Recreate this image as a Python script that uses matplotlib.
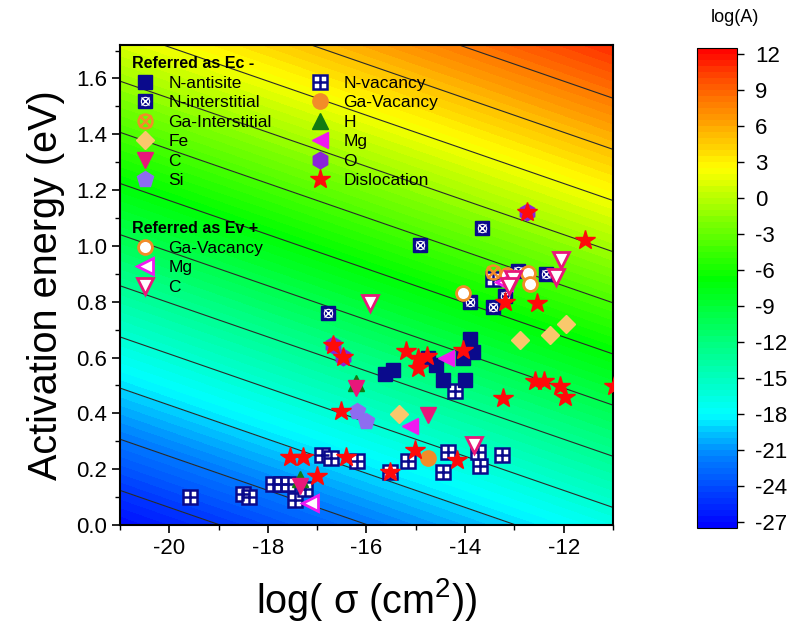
import numpy as np
import matplotlib
matplotlib.use('Agg')
import matplotlib.pyplot as plt
from matplotlib.colors import LinearSegmentedColormap
from matplotlib.ticker import MultipleLocator, FormatStrFormatter

plt.rcParams['font.family'] = ['Liberation Sans', 'DejaVu Sans']
plt.rcParams['mathtext.fontset'] = 'custom'
plt.rcParams['mathtext.rm'] = 'Liberation Sans'
plt.rcParams['axes.unicode_minus'] = False

# ---------------- data (log sigma [cm^2], Ea [eV]) ----------------
n_antisite_x = [-15.63, -15.46, -14.76, -14.60, -14.45, -14.00, -14.04, -13.90, -13.84]
n_antisite_y = [0.540, 0.555, 0.600, 0.575, 0.520, 0.520, 0.600, 0.665, 0.620]

n_inter_x = [-13.65, -14.92, -16.78, -13.90, -13.43, -13.20, -12.92, -12.35]
n_inter_y = [1.065, 1.005, 0.760, 0.800, 0.780, 0.820, 0.910, 0.900]

ga_inter_x = [-13.44]
ga_inter_y = [0.908]

fe_x = [-15.34, -12.88, -12.27, -11.96]
fe_y = [0.399, 0.662, 0.682, 0.722]

c_x = [-16.21, -14.75, -17.35]
c_y = [0.490, 0.395, 0.138]

si_x = [-16.20, -16.00]
si_y = [0.407, 0.371]

n_vac_x = [-19.58, -18.51, -18.39, -17.90, -17.74, -17.60, -17.45, -17.25, -16.91, -16.71,
           -16.20, -15.16, -14.34, -14.45, -13.70, -13.26, -13.74, -14.21, -15.53, -13.44]
n_vac_y = [0.100, 0.110, 0.100, 0.147, 0.147, 0.147, 0.090, 0.130, 0.250, 0.240,
           0.230, 0.230, 0.260, 0.190, 0.210, 0.250, 0.260, 0.480, 0.190, 0.880]

ga_vac_x = [-14.76]
ga_vac_y = [0.240]

h_x = [-17.35, -16.21]
h_y = [0.165, 0.510]

mg_x = [-14.38, -15.12]
mg_y = [0.600, 0.353]

o_x = [-12.75, -16.68, -16.48]
o_y = [1.120, 0.646, 0.603]

disl_x = [-17.55, -17.28, -17.01, -16.42, -16.52, -16.68, -16.48, -15.53, -15.02, -15.19,
          -14.96, -14.78, -14.95, -14.05, -14.17, -13.23, -13.20, -12.55, -12.75, -11.57,
          -12.59, -12.39, -12.08, -11.97, -10.97]
disl_y = [0.243, 0.243, 0.177, 0.243, 0.410, 0.646, 0.603, 0.190, 0.270, 0.622,
          0.600, 0.604, 0.562, 0.628, 0.233, 0.455, 0.800, 0.796, 1.120, 1.023,
          0.515, 0.515, 0.497, 0.460, 0.497]

ev_gavac_x = [-14.04, -13.16, -12.72, -12.69]
ev_gavac_y = [0.832, 0.897, 0.904, 0.862]

ev_mg_x = [-17.15, -13.22]
ev_mg_y = [0.078, 0.870]

ev_c_x = [-15.92, -13.03, -12.05, -12.15, -13.82, -13.10]
ev_c_y = [0.796, 0.880, 0.948, 0.890, 0.287, 0.856]

# background model: log(A) = log(sigma) + Ea/(kT ln10) + offset
kT_ln10 = 0.0611
offset = -6.03
cbar_ticks = list(range(-27, 13, 3))
contour_levels = list(range(-25, 9, 3))

# ---------------- figure ----------------
fig = plt.figure(figsize=(8.01, 6.30), dpi=100)
ax = fig.add_axes([120/801, 105/630, 493/801, 480/630])

cmap = LinearSegmentedColormap.from_list('origin_rainbow', [
    (0.000, (0.0, 0.0, 1.0)),
    (0.160, (0.0, 0.55, 1.0)),
    (0.237, (0.0, 1.0, 1.0)),
    (0.370, (0.0, 1.0, 0.55)),
    (0.520, (0.0, 1.0, 0.0)),
    (0.640, (0.50, 1.0, 0.0)),
    (0.750, (1.0, 1.0, 0.0)),
    (0.850, (1.0, 0.62, 0.0)),
    (0.930, (1.0, 0.33, 0.0)),
    (1.000, (1.0, 0.0, 0.0)),
])

gx = np.linspace(-21, -11, 300)
gy = np.linspace(0, 1.72, 300)
GX, GY = np.meshgrid(gx, gy)
Z = GX + GY / kT_ln10 + offset
fill_levels = np.arange(-27.5, 12.6, 0.5)
cf = ax.contourf(GX, GY, Z, levels=fill_levels, cmap=cmap, zorder=0)
ax.contour(GX, GY, Z, levels=contour_levels, colors='#2a2a2a', linewidths=0.8,
           linestyles='solid', zorder=1)

navy = '#0a0a8c'
orange = '#f28c28'
pink = '#e8177a'
magenta = '#f01af0'

kw = dict(linestyle='none', zorder=3)
# N-vacancy
h_nvac1, = ax.plot(n_vac_x, n_vac_y, marker='s', ms=10, mfc='white', mec=navy, mew=1.8, **kw)
h_nvac2, = ax.plot(n_vac_x, n_vac_y, marker='+', ms=10, mec=navy, mew=1.8, **kw)
# N-interstitial
h_ni1, = ax.plot(n_inter_x, n_inter_y, marker='s', ms=10, mfc=navy, mec=navy, **kw)
h_ni2, = ax.plot(n_inter_x, n_inter_y, marker='x', ms=6, mec='white', mew=1.0, **kw)
h_ni3, = ax.plot(n_inter_x, n_inter_y, marker='o', ms=6, mfc='none', mec='white', mew=0.8, **kw)
# N-antisite
h_na, = ax.plot(n_antisite_x, n_antisite_y, marker='s', ms=10, color=navy, **kw)
# Ga-Interstitial
h_gi1, = ax.plot(ga_inter_x, ga_inter_y, marker='o', ms=10, mfc='none', mec=orange, mew=1.8, **kw)
h_gi2, = ax.plot(ga_inter_x, ga_inter_y, marker='x', ms=8, mec=orange, mew=1.8, **kw)
# Fe
h_fe, = ax.plot(fe_x, fe_y, marker='D', ms=9, color='#f9c86c', **kw)
# Si
h_si, = ax.plot(si_x, si_y, marker='p', ms=12, color='#8e6cf0', **kw)
# H
h_h, = ax.plot(h_x, h_y, marker='^', ms=11, color='#127a12', **kw)
# C
h_c, = ax.plot(c_x, c_y, marker='v', ms=12, color=pink, **kw)
# Ga-Vacancy
h_gv, = ax.plot(ga_vac_x, ga_vac_y, marker='o', ms=11, color=orange, **kw)
# Mg
h_mg, = ax.plot(mg_x, mg_y, marker='<', ms=12, color=magenta, **kw)
# O
h_o, = ax.plot(o_x, o_y, marker='h', ms=12, color='#8a25d8', **kw)
# Dislocation
h_d, = ax.plot(disl_x, disl_y, marker='*', ms=15, color='#ff0a0a', **kw)
# Ev+
h_evg, = ax.plot(ev_gavac_x, ev_gavac_y, marker='o', ms=10, mfc='white', mec=orange, mew=2, **kw)
h_evm, = ax.plot(ev_mg_x, ev_mg_y, marker='<', ms=11, mfc='white', mec=magenta, mew=2, **kw)
h_evc, = ax.plot(ev_c_x, ev_c_y, marker='v', ms=11, mfc='white', mec=pink, mew=2, **kw)

ax.set_xlim(-21, -11)
ax.set_ylim(0, 1.72)
ax.xaxis.set_major_locator(MultipleLocator(2))
ax.xaxis.set_minor_locator(MultipleLocator(1))
ax.yaxis.set_major_locator(MultipleLocator(0.2))
ax.yaxis.set_minor_locator(MultipleLocator(0.1))
ax.yaxis.set_major_formatter(FormatStrFormatter('%.1f'))
ax.tick_params(which='major', direction='out', length=6, width=1.2, labelsize=16)
ax.tick_params(which='minor', direction='out', length=3.5, width=1.0)
for s in ax.spines.values():
    s.set_linewidth(1.5)

ax.set_xlabel('log( σ (cm$^2$))', fontsize=28.5, labelpad=12)
ax.set_ylabel('Activation energy (eV)', fontsize=28.5, labelpad=8)

common = dict(frameon=False, fontsize=12.5, alignment='left', handlelength=1.5,
              handletextpad=0.6, labelspacing=0.25, borderaxespad=0.3,
              title_fontproperties={'weight': 'bold', 'size': 11.5})
leg1 = ax.legend(
    [h_na, (h_ni1, h_ni2, h_ni3), (h_gi1, h_gi2), h_fe, h_c, h_si,
     (h_nvac1, h_nvac2), h_gv, h_h, h_mg, h_o, h_d],
    ['N-antisite', 'N-interstitial', 'Ga-Interstitial', 'Fe', 'C', 'Si',
     'N-vacancy', 'Ga-Vacancy', 'H', 'Mg', 'O', 'Dislocation'],
    ncol=2, loc='upper left', bbox_to_anchor=(0.0, 1.002),
    title='Referred as Ec -', columnspacing=2.0, **common)
ax.add_artist(leg1)
leg2 = ax.legend(
    [h_evg, h_evm, h_evc], ['Ga-Vacancy', 'Mg', 'C'],
    loc='upper left', bbox_to_anchor=(0.0, 0.658),
    title='Referred as Ev +', **common)

cax = fig.add_axes([697/801, 102/630, 40/801, 480/630])
cb = fig.colorbar(cf, cax=cax, ticks=cbar_ticks)
cb.ax.tick_params(labelsize=16, length=5, width=1.0, direction='out', pad=8)
cb.outline.set_linewidth(0.8)
fig.text(735/801, 1 - 18/630, 'log(A)', ha='center', va='center', fontsize=13)

fig.savefig('out.png', dpi=100)
